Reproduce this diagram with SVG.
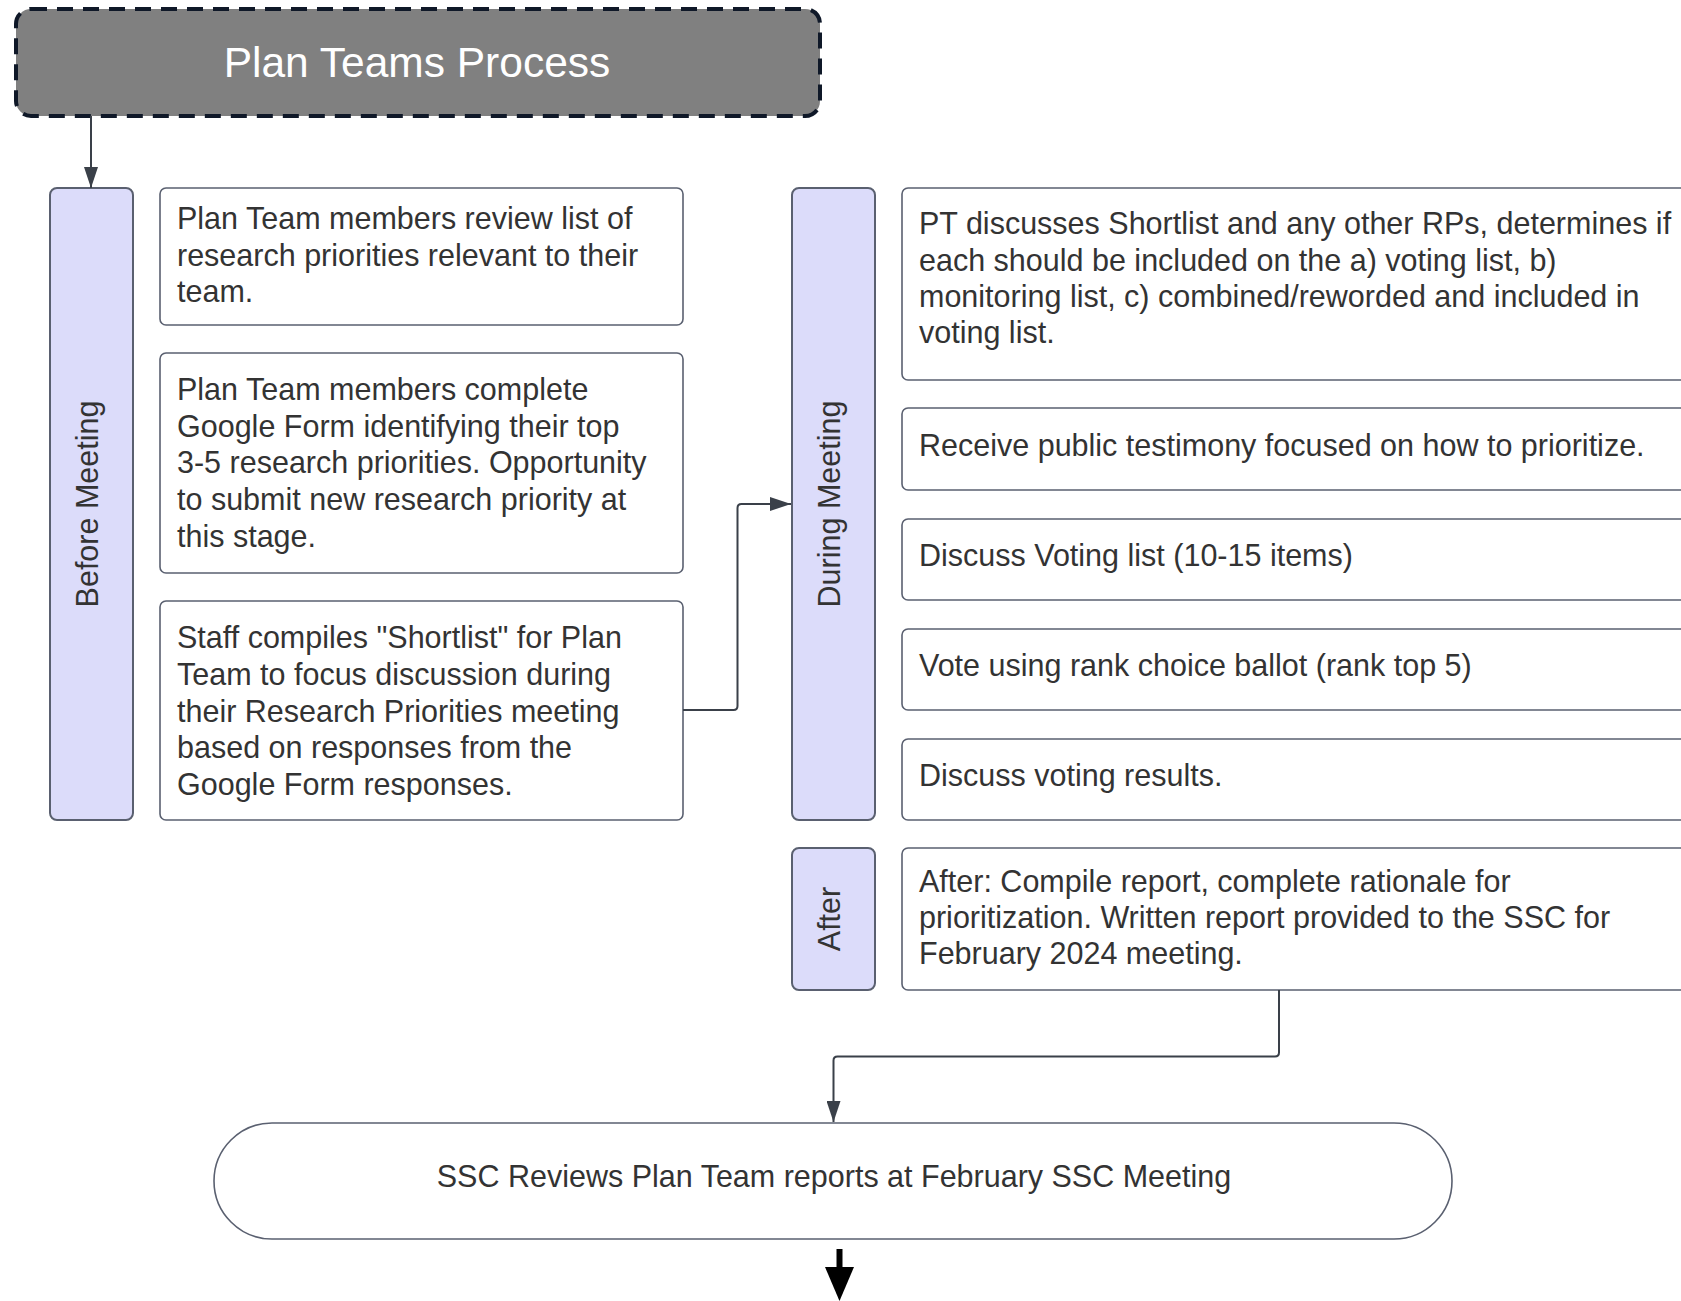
<svg xmlns="http://www.w3.org/2000/svg" width="1681" height="1301" viewBox="0 0 1681 1301">
<style>
  text { font-family: "Liberation Sans", Arial, sans-serif; fill: #333333; }
  .t { font-size: 30.5px; }
  .lane { fill: #dcdcfa; stroke: #5a6070; stroke-width: 2; }
  .box { fill: #ffffff; stroke: #5a6070; stroke-width: 1.6; }
  .conn { fill: none; stroke: #3a4049; stroke-width: 2; }
  .lt { font-size: 30.5px; text-anchor: middle; }
</style>
<defs>
  <marker id="ah" markerWidth="22" markerHeight="14" refX="21" refY="7" orient="auto" markerUnits="userSpaceOnUse">
    <path d="M0,0 L21,7 L0,14 Z" fill="#3a4049"/>
  </marker>
</defs>
<rect width="1681" height="1301" fill="#ffffff"/>

<g id="title">
  <rect x="16" y="9" width="804" height="107" rx="15" ry="15" fill="#808080" stroke="#0f1828" stroke-width="4" stroke-dasharray="16 10"/>
  <text x="417" y="77" font-size="42.5" text-anchor="middle" style="fill:#ffffff">Plan Teams Process</text>
</g>

<g id="lane-before">
  <rect class="lane" x="50" y="188" width="83" height="632" rx="7"/>
  <text class="lt" transform="translate(91.5,504) rotate(-90)" dy="6.5">Before Meeting</text>
</g>

<g id="box-review">
  <rect class="box" x="160" y="188" width="523" height="137" rx="6"/>
  <text class="t" x="177" y="229">Plan Team members review list of</text>
  <text class="t" x="177" y="266">research priorities relevant to their</text>
  <text class="t" x="177" y="302">team.</text>
</g>

<g id="box-form">
  <rect class="box" x="160" y="353" width="523" height="220" rx="6"/>
  <text class="t" x="177" y="400">Plan Team members complete</text>
  <text class="t" x="177" y="437">Google Form identifying their top</text>
  <text class="t" x="177" y="473">3-5 research priorities. Opportunity</text>
  <text class="t" x="177" y="510">to submit new research priority at</text>
  <text class="t" x="177" y="547">this stage.</text>
</g>

<g id="box-shortlist">
  <rect class="box" x="160" y="601" width="523" height="219" rx="6"/>
  <text class="t" x="177" y="648">Staff compiles "Shortlist" for Plan</text>
  <text class="t" x="177" y="685">Team to focus discussion during</text>
  <text class="t" x="177" y="722">their Research Priorities meeting</text>
  <text class="t" x="177" y="758">based on responses from the</text>
  <text class="t" x="177" y="795">Google Form responses.</text>
</g>

<g id="lane-during">
  <rect class="lane" x="792" y="188" width="83" height="632" rx="7"/>
  <text class="lt" transform="translate(833.5,504) rotate(-90)" dy="6.5">During Meeting</text>
</g>

<g id="box-discuss-shortlist">
  <rect class="box" x="902" y="188" width="800" height="192" rx="6"/>
  <text class="t" x="919" y="234">PT discusses Shortlist and any other RPs, determines if</text>
  <text class="t" x="919" y="271">each should be included on the a) voting list, b)</text>
  <text class="t" x="919" y="307">monitoring list, c) combined/reworded and included in</text>
  <text class="t" x="919" y="343">voting list.</text>
</g>

<g id="box-testimony">
  <rect class="box" x="902" y="408" width="800" height="82" rx="6"/>
  <text class="t" x="919" y="456">Receive public testimony focused on how to prioritize.</text>
</g>

<g id="box-voting-list">
  <rect class="box" x="902" y="519" width="800" height="81" rx="6"/>
  <text class="t" x="919" y="566">Discuss Voting list (10-15 items)</text>
</g>

<g id="box-vote">
  <rect class="box" x="902" y="629" width="800" height="81" rx="6"/>
  <text class="t" x="919" y="676">Vote using rank choice ballot (rank top 5)</text>
</g>

<g id="box-results">
  <rect class="box" x="902" y="739" width="800" height="81" rx="6"/>
  <text class="t" x="919" y="786">Discuss voting results.</text>
</g>

<g id="lane-after">
  <rect class="lane" x="792" y="848" width="83" height="142" rx="7"/>
  <text class="lt" transform="translate(833.5,919) rotate(-90)" dy="6.5">After</text>
</g>

<g id="box-after">
  <rect class="box" x="902" y="848" width="800" height="142" rx="6"/>
  <text class="t" x="919" y="892">After: Compile report, complete rationale for</text>
  <text class="t" x="919" y="928">prioritization. Written report provided to the SSC for</text>
  <text class="t" x="919" y="964">February 2024 meeting.</text>
</g>

<g id="ssc">
  <rect class="box" x="214" y="1123" width="1238" height="116" rx="58" ry="58"/>
  <text class="t" x="834" y="1187" text-anchor="middle">SSC Reviews Plan Team reports at February SSC Meeting</text>
</g>

<g id="connectors">
  <path class="conn" d="M91,116 L91,188" marker-end="url(#ah)"/>
  <path class="conn" d="M683,710 L733.5,710 Q737.5,710 737.5,706 L737.5,508 Q737.5,504 741.5,504 L791,504" marker-end="url(#ah)"/>
  <path class="conn" d="M1279,990 L1279,1052.5 Q1279,1056.5 1275,1056.5 L837.5,1056.5 Q833.5,1056.5 833.5,1060.5 L833.5,1122" marker-end="url(#ah)"/>
  <path d="M839.5,1249 L839.5,1270" stroke="#000000" stroke-width="6" fill="none"/>
  <path d="M825,1267 L854,1267 L839.5,1301 Z" fill="#000000"/>
</g>
</svg>
